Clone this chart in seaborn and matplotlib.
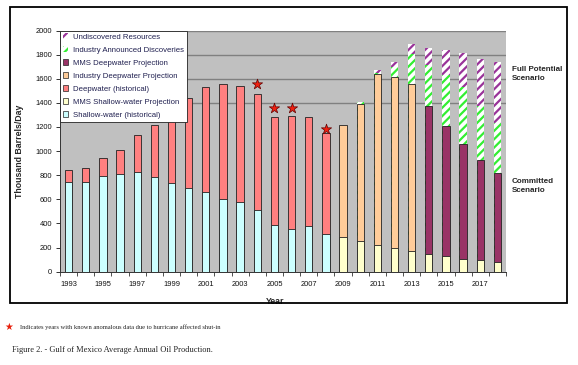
import matplotlib
matplotlib.use("Agg")
import matplotlib.pyplot as plt
from matplotlib.patches import Patch, Rectangle
import numpy as np
import pandas as pd
import seaborn as sns

# values (thousand barrels/day)
years = [1993, 1994, 1995, 1996, 1997, 1998, 1999, 2000, 2001, 2002, 2003, 2004, 2005,
         2006, 2007, 2008, 2009, 2010, 2011, 2012, 2013, 2014, 2015, 2016, 2017, 2018]
shallow_hist = [745, 745, 790, 810, 830, 785, 735, 690, 665, 600, 578, 514, 386,
                358, 378, 312, 0, 0, 0, 0, 0, 0, 0, 0, 0, 0]
shallow_proj = [0, 0, 0, 0, 0, 0, 0, 0, 0, 0, 0, 0, 0,
                0, 0, 0, 287, 253, 220, 197, 170, 145, 128, 106, 95, 78]
deep_hist = [100, 115, 155, 200, 303, 435, 585, 750, 870, 960, 962, 960, 897,
             936, 905, 835, 0, 0, 0, 0, 0, 0, 0, 0, 0, 0]
ind_deep_proj = [0, 0, 0, 0, 0, 0, 0, 0, 0, 0, 0, 0, 0,
                 0, 0, 0, 933, 1141, 1419, 1414, 1385, 0, 0, 0, 0, 0]
mms_deep_proj = [0, 0, 0, 0, 0, 0, 0, 0, 0, 0, 0, 0, 0,
                 0, 0, 0, 0, 0, 0, 0, 0, 1228, 1080, 949, 835, 742]
announced = [0, 0, 0, 0, 0, 0, 0, 0, 0, 0, 0, 0, 0,
             0, 0, 0, 0, 10, 12, 83, 250, 343, 422, 473, 443, 410]
undiscovered = [0, 0, 0, 0, 0, 0, 0, 0, 0, 0, 0, 0, 0,
                0, 0, 0, 0, 0, 22, 45, 83, 139, 209, 286, 391, 509]

star_years = [2004, 2005, 2006, 2008]
star_values = [1555, 1355, 1355, 1180]

series_names = ["Shallow-water (historical)", "MMS Shallow-water Projection",
                "Deepwater (historical)", "Industry Deepwater Projection",
                "MMS Deepwater Projection", "Industry Announced Discoveries",
                "Undiscovered Resources"]
series_values = [shallow_hist, shallow_proj, deep_hist, ind_deep_proj,
                 mms_deep_proj, announced, undiscovered]

styles = {
    "Shallow-water (historical)": dict(color="#CCFFFF"),
    "MMS Shallow-water Projection": dict(color="#FFFFCC"),
    "Deepwater (historical)": dict(color="#FF8080"),
    "Industry Deepwater Projection": dict(color="#FFCC99"),
    "MMS Deepwater Projection": dict(color="#993366"),
    "Industry Announced Discoveries": dict(color="white", hatch="////", edge="#33EE33"),
    "Undiscovered Resources": dict(color="white", hatch="////", edge="#993399"),
}

sns.set_style("ticks")
plt.rcParams["font.family"] = ["Liberation Sans", "DejaVu Sans"]
plt.rcParams["hatch.linewidth"] = 1.6

year_labels = [str(y) for y in years]
cum = np.cumsum(np.array(series_values), axis=0)

fig = plt.figure(figsize=(5.78, 3.65), dpi=100)
ax = fig.add_axes([60 / 578, (365 - 271.7) / 365, 446 / 578, 241.2 / 365])
ax.set_facecolor("#C0C0C0")

for level in [1400, 1600, 1800, 2000]:
    ax.axhline(level, color="#808080", lw=1.0, zorder=0.5)

# stacked bars: draw cumulative totals from the top layer down
for i in range(len(series_names) - 1, -1, -1):
    name = series_names[i]
    vals = np.array(series_values[i])
    mask = vals > 0
    df = pd.DataFrame({"year": np.array(year_labels)[mask], "value": cum[i][mask]})
    st = styles[name]
    if "hatch" in st:
        sns.barplot(data=df, x="year", y="value", order=year_labels, ax=ax,
                    color=st["color"], saturation=1, width=0.43, errorbar=None,
                    hatch=st["hatch"], edgecolor=st["edge"], linewidth=0)
    else:
        sns.barplot(data=df, x="year", y="value", order=year_labels, ax=ax,
                    color=st["color"], saturation=1, width=0.43, errorbar=None,
                    edgecolor="#222222", linewidth=0.6)

star_pos = [year_labels.index(str(y)) for y in star_years]
sns.scatterplot(x=star_pos, y=star_values, ax=ax, marker="*", s=60,
                color="#F02010", edgecolor="#600000", linewidth=0.5, zorder=4)

ax.set_xlim(-0.5, len(years) - 0.5)
ax.set_ylim(0, 2000)
ax.set_yticks(range(0, 2001, 200))
ax.set_xticks(range(0, len(years), 2))
ax.set_xticklabels(year_labels[::2])
ax.set_xticks(np.arange(-0.5, len(years), 1), minor=True)
ax.tick_params(axis="x", which="major", length=0, pad=7, labelsize=5.4, colors="#111111")
ax.tick_params(axis="x", which="minor", length=3, width=0.6, color="#333333", direction="out")
ax.tick_params(axis="y", length=3, width=0.6, pad=2.5, labelsize=5.4, colors="#111111")
for s in ["top", "right"]:
    ax.spines[s].set_visible(False)
for s in ["left", "bottom"]:
    ax.spines[s].set_color("#333333")
    ax.spines[s].set_linewidth(0.7)

ax.set_ylabel("Thousand Barrels/Day", fontsize=6.3, fontweight="bold")
ax.yaxis.set_label_coords(-0.08, 0.5)
ax.set_xlabel("Year", fontsize=6.3, fontweight="bold")
ax.xaxis.set_label_coords(0.482, -0.103)

handles = []
for name in series_names[::-1]:
    st = styles[name]
    if "hatch" in st:
        handles.append(Patch(facecolor="white", edgecolor=st["edge"], hatch=st["hatch"], linewidth=0))
    else:
        handles.append(Patch(facecolor=st["color"], edgecolor="#222222", linewidth=0.5))
leg = ax.legend(handles, series_names[::-1], loc="upper left", bbox_to_anchor=(0, 1),
                borderaxespad=0, fancybox=False, framealpha=1, edgecolor="#222222",
                fontsize=5.6, handlelength=0.7, handleheight=0.7, labelspacing=0.72,
                borderpad=0.35, handletextpad=0.6)
leg.get_frame().set_linewidth(0.6)
for t in leg.get_texts():
    t.set_color("#202050")

fig.text(512 / 578, 1 - 74 / 365, "Full Potential\nScenario", ha="left", va="center",
         fontsize=5.8, fontweight="bold", linespacing=1.5)
fig.text(512 / 578, 1 - 186 / 365, "Committed\nScenario", ha="left", va="center",
         fontsize=5.8, fontweight="bold", linespacing=1.5)

fig.patches.append(Rectangle((10 / 578, 62 / 365), 557 / 578, 296 / 365, transform=fig.transFigure,
                             fill=False, edgecolor="black", linewidth=1.3))

fig.text(8.3 / 578, 1 - 327 / 365, "\u2605", color="#E8200C", fontsize=7, ha="center", va="center",
         family=["DejaVu Sans"])
fig.text(20 / 578, 1 - 327 / 365,
         "Indicates years with known anomalous data due to hurricane affected shut-in",
         ha="left", va="center", fontsize=4.7, family=["Liberation Serif", "DejaVu Serif"], color="#222222")
fig.text(12 / 578, 1 - 350 / 365, "Figure 2. - Gulf of Mexico Average Annual Oil Production.",
         ha="left", va="center", fontsize=6, family=["Liberation Serif", "DejaVu Serif"], color="#222222")

fig.savefig("out.png", dpi=100)
